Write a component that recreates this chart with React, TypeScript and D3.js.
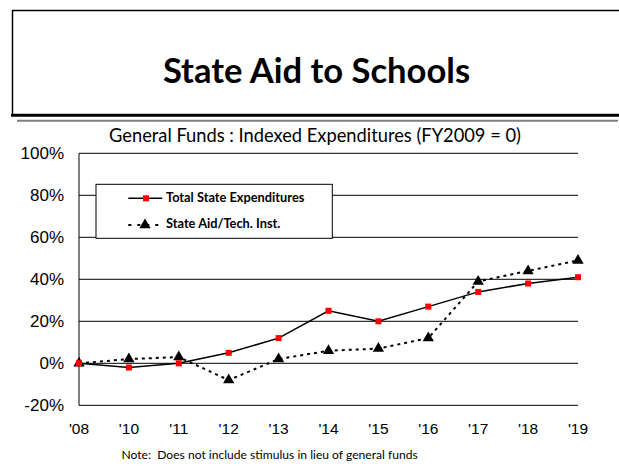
import React from "react";
import * as d3 from "d3";

const years = ["'08", "'10", "'11", "'12", "'13", "'14", "'15", "'16", "'17", "'18", "'19"];
const totalState = [0, -2, 0, 5, 12, 25, 20, 27, 34, 38, 41];
const stateAid = [0, 2, 3, -8, 2, 6, 7, 12, 39, 44, 49];
const yTicks = [-20, 0, 20, 40, 60, 80, 100];

const W = 619;
const H = 468;
const plot = { left: 79, right: 578, top: 153.3, bottom: 405.3 };
const sans = "Liberation Sans, Arial, sans-serif";
const calibri = "Lato, 'Open Sans', sans-serif";

export default function App() {
  const x = d3.scalePoint<string>().domain(years).range([plot.left, plot.right]).padding(0);
  const y = d3.scaleLinear().domain([-20, 100]).range([plot.bottom, plot.top]);

  const line = d3
    .line<number>()
    .x((_, i) => x(years[i]) as number)
    .y((d) => y(d));

  const tri = d3.symbol().type(d3.symbolTriangle).size(55)();

  return (
    <svg
      width={W}
      height={H}
      style={{ position: "absolute", left: 0, top: 0, background: "#fff" }}
    >
      {/* header box */}
      <path d={`M${W + 2},10.5 H12.5 V115`} fill="none" stroke="#000" strokeWidth={1.5} />
      <line x1={11} x2={W} y1={115.2} y2={115.2} stroke="#000" strokeWidth={3} />
      <line x1={17} x2={618} y1={120.8} y2={120.8} stroke="#808080" strokeWidth={2} />
      <text
        x={316.5}
        y={82.5}
        textAnchor="middle"
        fontFamily={calibri}
        fontWeight={700}
        fontSize={34.6}
        fill="#000"
      >
        State Aid to Schools
      </text>

      {/* chart title */}
      <text x={315} y={142} textAnchor="middle" fontFamily={calibri} fontSize={18.3} fill="#000">
        General Funds : Indexed Expenditures (FY2009 = 0)
      </text>

      {/* gridlines */}
      {yTicks.map((t) => (
        <line
          key={t}
          x1={plot.left}
          x2={plot.right}
          y1={y(t)}
          y2={y(t)}
          stroke="#000"
          strokeWidth={1}
        />
      ))}
      <line x1={plot.left} x2={plot.left} y1={plot.top} y2={plot.bottom} stroke="#000" strokeWidth={1} />

      {/* y labels */}
      {yTicks.map((t) => (
        <text
          key={t}
          x={64}
          y={y(t) + 5.8}
          textAnchor="end"
          fontFamily={sans}
          fontSize={17}
          fill="#000"
        >
          {`${t}%`}
        </text>
      ))}

      {/* x labels */}
      {years.map((yr) => (
        <text
          key={yr}
          x={x(yr) as number}
          y={433.5}
          textAnchor="middle"
          fontFamily={sans}
          fontSize={15.5}
          fill="#000"
        >
          {yr}
        </text>
      ))}

      {/* series */}
      <path d={line(stateAid) ?? ""} fill="none" stroke="#000" strokeWidth={2} strokeDasharray="3,4" />
      <path d={line(totalState) ?? ""} fill="none" stroke="#000" strokeWidth={1.5} />
      {stateAid.map((v, i) => (
        <path key={i} d={tri ?? ""} transform={`translate(${x(years[i])},${y(v)})`} fill="#000" />
      ))}
      {totalState.map((v, i) => (
        <rect
          key={i}
          x={(x(years[i]) as number) - 3}
          y={y(v) - 3}
          width={6}
          height={6}
          fill="#ff0000"
        />
      ))}

      {/* legend */}
      <rect x={96} y={184.3} width={236.3} height={54} fill="#fff" stroke="#000" strokeWidth={1} />
      <line x1={128.3} x2={162.3} y1={198.3} y2={198.3} stroke="#000" strokeWidth={1.5} />
      <rect x={143} y={195.3} width={6} height={6} fill="#ff0000" />
      <text x={166} y={201.7} fontFamily={calibri} fontWeight={700} fontSize={12.8} fill="#000">
        Total State Expenditures
      </text>
      <line x1={128.3} x2={162.3} y1={225} y2={225} stroke="#000" strokeWidth={2} strokeDasharray="3,6" />
      <path d={tri ?? ""} transform={`translate(145,225)`} fill="#000" />
      <text x={166} y={228.3} fontFamily={calibri} fontWeight={700} fontSize={12.8} fill="#000">
        State Aid/Tech. Inst.
      </text>

      {/* note */}
      <text
        x={121.5}
        y={459}
        fontFamily={calibri}
        fontSize={12.1}
        fill="#000"
        style={{ whiteSpace: "pre" }}
      >
        {"Note:  Does not include stimulus in lieu of general funds"}
      </text>
    </svg>
  );
}
